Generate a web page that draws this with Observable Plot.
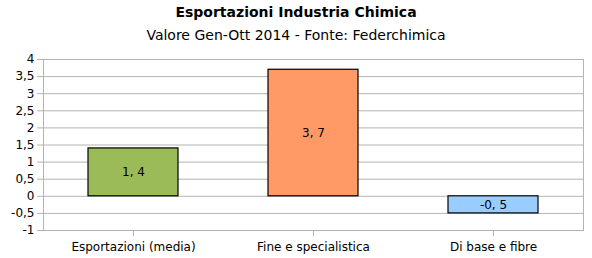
<!DOCTYPE html>
<html><head><meta charset="utf-8">
<script src="https://cdn.jsdelivr.net/npm/d3@7"></script>
<script src="https://cdn.jsdelivr.net/npm/@observablehq/plot@0.6"></script>
<style>
body{margin:0;background:#fff;font-family:"DejaVu Sans",sans-serif;}
#wrap{width:592px;height:258px;position:relative;}
#title{position:absolute;top:4px;left:0;width:592px;text-align:center;font-size:14px;font-weight:bold;color:#000;}
#sub{position:absolute;top:27px;left:0;width:592px;text-align:center;font-size:14px;color:#000;}
#chart{position:absolute;top:50px;left:0;}
</style></head>
<body><div id="wrap"><div id="title">Esportazioni Industria Chimica</div><div id="sub">Valore Gen-Ott 2014 - Fonte: Federchimica</div><div id="chart"></div></div>
<script>
const categories = ["Esportazioni (media)", "Fine e specialistica", "Di base e fibre"];
const values = [1.4, 3.7, -0.5];
const colors = ["#9bbb59", "#ff9966", "#99ccff"];
const yTicks = [-1, -0.5, 0, 0.5, 1, 1.5, 2, 2.5, 3, 3.5, 4];

const data = categories.map((c, i) => ({cat: c, value: values[i]}));
const fmt = d => String(d).replace(".", ",");

const chart = Plot.plot({
  width: 592, height: 208,
  marginTop: 9, marginBottom: 28, marginLeft: 43, marginRight: 9,
  style: {fontFamily: "DejaVu Sans", fontSize: "12px", background: "#fff", color: "#000"},
  x: {domain: categories, paddingInner: 0.5, paddingOuter: 0.25, label: null},
  y: {domain: [-1, 4], label: null},
  color: {domain: categories, range: colors},
  marks: [
    Plot.gridY(yTicks, {stroke: "#b3b3b3", strokeOpacity: 1}),
    Plot.frame({stroke: "#b3b3b3"}),
    Plot.barY(data, {x: "cat", y: "value", fill: "cat", stroke: "#000", strokeWidth: 1.2}),
    Plot.text(data, {x: "cat", y: d => d.value / 2, text: d => fmt(d.value).replace(",", ", "), fontSize: 12, fill: "#000"}),
    Plot.axisY(yTicks, {tickSize: 6, tickPadding: 3, stroke: "#b3b3b3", fill: "#000", tickFormat: fmt, label: null, fontSize: 12}),
    Plot.axisX({tickSize: 6, tickPadding: 6, stroke: "#b3b3b3", fill: "#000", label: null, fontSize: 12})
  ]
});
document.getElementById("chart").appendChild(chart);
</script></body></html>
